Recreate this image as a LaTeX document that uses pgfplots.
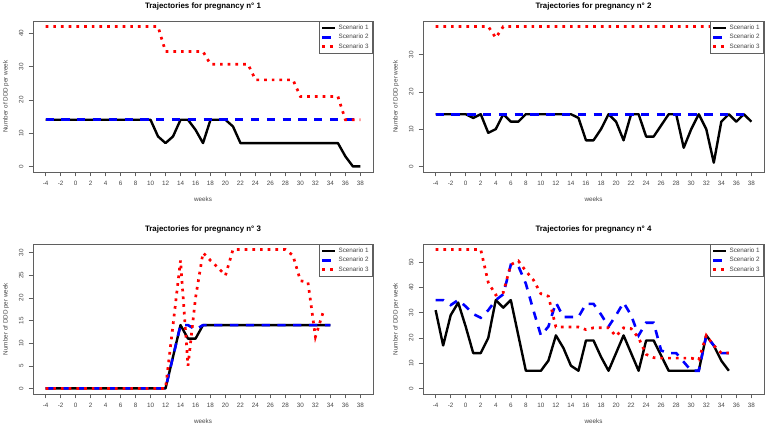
\documentclass[border=0pt]{standalone}
\usepackage{pgfplots}
\pgfplotsset{compat=1.18}
\usepackage{fontspec}
\setmainfont{Liberation Sans}
\definecolor{axgray}{RGB}{95,95,95}
\definecolor{txtgray}{RGB}{70,70,70}
\definecolor{sblue}{RGB}{0,0,255}
\definecolor{sred}{RGB}{255,0,0}
\pgfplotsset{
  every axis title shift=0pt,
  panel/.style={
    scale only axis,
    width=340pt, height=151pt,
    xmin=-5.68, xmax=39.68,
    xtick={-4,-2,...,38},
    xticklabels={-4,-2,0,2,4,6,8,10,12,14,16,18,20,22,24,26,28,30,32,34,36,38},
    axis line style={axgray, line width=0.8pt},
    tick style={axgray, line width=0.6pt},
    tick align=outside,
    major tick length=4.5pt,
    tick pos=left,
    tick label style={font=\fontsize{6.3}{7}\selectfont, text=txtgray, inner sep=0pt},
    xticklabel style={anchor=north},
    yticklabel style={rotate=90, anchor=south},
    xticklabel shift=4.5pt,
    yticklabel shift=4.8pt,
    xlabel={weeks},
    ylabel={Number of DDD per week},
    label style={font=\fontsize{6.3}{7}\selectfont, text=txtgray},
    xlabel style={at={(axis description cs:0.5,-0.179)}, anchor=center},
    ylabel style={at={(axis description cs:-0.0794,0.5)}, anchor=center, rotate=0},
    title style={at={(axis description cs:0.5,1.0993)}, anchor=center, yshift=0pt, font=\bfseries\fontsize{7.9}{9}\selectfont},
    legend style={at={(axis description cs:1,1)}, anchor=north east, draw=axgray, line width=0.6pt, fill=white,
      font=\fontsize{6.3}{7.5}\selectfont, inner xsep=2pt, inner ysep=1.5pt, row sep=-0.6pt,
      cells={anchor=west, text=txtgray}},
    legend cell align=left,
    legend image code/.code={\draw[##1] (0pt,0pt) -- (13pt,0pt);},
    clip=false,
  },
  s1/.style={black, line width=2.4pt, line join=round},
  s2/.style={sblue, line width=2.6pt, dash pattern=on 8.3pt off 7.5pt},
  s3/.style={sred, line width=2.7pt, dash pattern=on 2.7pt off 5pt},
}
\begin{document}
\begin{tikzpicture}
\useasboundingbox (0pt,0pt) rectangle (766pt,428pt);

% ---------------- Panel 1
\begin{axis}[panel, at={(33pt,256pt)}, anchor=south west, width=340pt, height=151pt,
  ymin=-1.68, ymax=43.68, ytick={0,10,20,30,40}, yticklabels={0,10,20,30,40},
  title={Trajectories for pregnancy n° 1}]
\addplot[s1] coordinates {(-4,14)(-3,14)(-2,14)(-1,14)(0,14)(1,14)(2,14)(3,14)(4,14)(5,14)(6,14)(7,14)(8,14)(9,14)(10,14)
 (11,9)(12,7)(13,9)(14,14)(15,14)(16,11)(17,7)(18,14)(19,14)(20,14)(21,12)(22,7)(23,7)(24,7)(25,7)(26,7)(27,7)(28,7)
 (29,7)(30,7)(31,7)(32,7)(33,7)(34,7)(35,7)(36,3)(37,0)(38,0)};
\addlegendentry{Scenario 1}
\addplot[s2] coordinates {(-4,14)(38,14)};
\addlegendentry{Scenario 2}
\addplot[s3] coordinates {(-4,42)(11,42)(12,34.5)(17,34.5)(18,30.7)(23,30.7)(24,26)(29,26)(30,21)(35,21)(36,14)(38,14)};
\addlegendentry{Scenario 3}
\end{axis}

% ---------------- Panel 2
\begin{axis}[panel, at={(423pt,256pt)}, anchor=south west, width=341pt, height=151pt,
  ymin=-1.5, ymax=39, ytick={0,10,20,30}, yticklabels={0,10,20,30},
  title={Trajectories for pregnancy n° 2}]
\addplot[s1] coordinates {(-4,14)(-3,14)(-2,14)(-1,14)(0,14)(1,13)(2,14)(3,9)(4,10)(5,14)(6,12)(7,12)(8,14)(9,14)(10,14)
 (11,14)(12,14)(13,14)(14,14)(15,13)(16,7)(17,7)(18,10)(19,14)(20,12)(21,7)(22,14)(23,14)(24,8)(25,8)(26,11)(27,14)
 (28,14)(29,5)(30,10)(31,14)(32,10)(33,1)(34,12)(35,14)(36,12)(37,14)(38,12)};
\addlegendentry{Scenario 1}
\addplot[s2] coordinates {(-4,14)(38,14)};
\addlegendentry{Scenario 2}
\addplot[s3] coordinates {(-4,37.5)(3,37.5)(4,34.5)(5,37.5)(38,37.5)};
\addlegendentry{Scenario 3}
\end{axis}

% ---------------- Panel 3
\begin{axis}[panel, at={(33pt,34pt)}, anchor=south west, width=340pt, height=150pt,
  ymin=-1.23, ymax=31.93, ytick={0,5,10,15,20,25,30}, yticklabels={0,5,10,15,20,25,30},
  title={Trajectories for pregnancy n° 3}]
\addplot[s1] coordinates {(-4,0)(-3,0)(-2,0)(-1,0)(0,0)(1,0)(2,0)(3,0)(4,0)(5,0)(6,0)(7,0)(8,0)(9,0)(10,0)(11,0)(12,0)
 (13,7)(14,14)(15,11)(16,11)(17,14)(18,14)(19,14)(20,14)(21,14)(22,14)(23,14)(24,14)(25,14)(26,14)(27,14)(28,14)
 (29,14)(30,14)(31,14)(32,14)(33,14)(34,14)};
\addlegendentry{Scenario 1}
\addplot[s2] coordinates {(-4,0)(12,0)(13,7)(14,14)(15,14)(16,13)(17,14)(34,14)};
\addlegendentry{Scenario 2}
\addplot[s3] coordinates {(-4,0)(12,0)(13,14)(14,28.3)(15,5)(16,20)(17,30)(18,28.3)(19,26.7)(20,25)(21,30.7)(22,30.7)
 (23,30.7)(24,30.7)(25,30.7)(26,30.7)(27,30.7)(28,30.7)(29,29.4)(30,23.8)(31,23.5)(32,11.4)(33,16.7)};
\addlegendentry{Scenario 3}
\end{axis}

% ---------------- Panel 4
\begin{axis}[panel, at={(423pt,34pt)}, anchor=south west, width=341pt, height=150pt,
  ymin=-2.2, ymax=57.2, ytick={0,10,20,30,40,50}, yticklabels={0,10,20,30,40,50},
  title={Trajectories for pregnancy n° 4}]
\addplot[s1] coordinates {(-4,31)(-3,17)(-2,29)(-1,34)(0,24.5)(1,14)(2,14)(3,20)(4,35)(5,32)(6,35)(7,21)(8,7)(9,7)(10,7)
 (11,11)(12,21)(13,16)(14,9)(15,7)(16,19)(17,19)(18,12.5)(19,7)(20,14)(21,21)(22,14)(23,7)(24,19)(25,19)(26,13)(27,7)
 (28,7)(29,7)(30,7)(31,7)(32,21)(33,17)(34,11)(35,7)};
\addlegendentry{Scenario 1}
\addplot[s2] coordinates {(-4,35)(-3,35)(-2,33)(-1,35)(0,32.5)(1,29.5)(2,28)(3,31)(4,35)(5,37.3)(6,49)(7,48.5)(8,41.5)
 (9,31)(10,21)(11,24.5)(12,34)(13,28.3)(14,28.3)(15,28.3)(16,33.5)(17,33.5)(18,29.3)(19,24.5)(20,29)(21,34)(22,29)
 (23,21)(24,26)(25,26)(26,15)(27,14)(28,14)(29,10.5)(30,7)(31,7)(32,21)(33,17)(34,14)(35,14)};
\addlegendentry{Scenario 2}
\addplot[s3] coordinates {(-4,55)(-3,55)(-2,55)(-1,55)(0,55)(1,55)(2,55)(3,42)(4,37)(5,38)(6,49)(7,50.5)(8,46.5)(9,43)
 (10,37.5)(11,36.5)(12,24.3)(13,24.3)(14,24.3)(15,24.3)(16,23.3)(17,24)(18,24)(19,24)(20,20.7)(21,24)(22,23.7)(23,20)
 (24,13.5)(25,12.2)(26,12)(27,12)(28,12)(29,12)(30,12)(31,11.3)(32,21)(33,17)(34,14)(35,14)};
\addlegendentry{Scenario 3}
\end{axis}
\end{tikzpicture}
\end{document}
